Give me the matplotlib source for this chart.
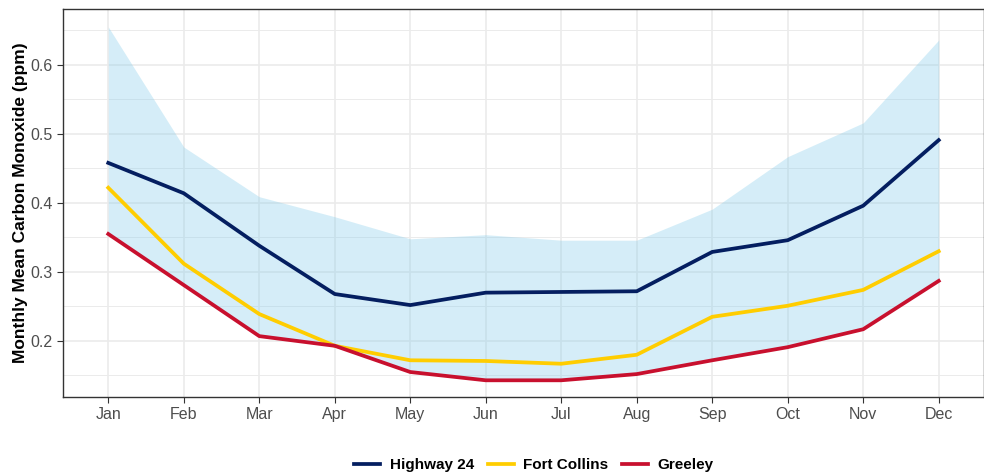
import matplotlib.pyplot as plt
from matplotlib.ticker import MultipleLocator

plt.rcParams['font.family'] = ['Liberation Sans', 'DejaVu Sans']

# data
months = ["Jan", "Feb", "Mar", "Apr", "May", "Jun", "Jul", "Aug", "Sep", "Oct", "Nov", "Dec"]
highway24 = [0.458, 0.414, 0.338, 0.268, 0.252, 0.270, 0.271, 0.272, 0.329, 0.346, 0.396, 0.491]
fort_collins = [0.422, 0.312, 0.239, 0.193, 0.172, 0.171, 0.167, 0.180, 0.235, 0.251, 0.274, 0.330]
greeley = [0.355, 0.281, 0.207, 0.193, 0.155, 0.143, 0.143, 0.152, 0.172, 0.191, 0.217, 0.287]
band_upper = [0.655, 0.481, 0.409, 0.380, 0.348, 0.354, 0.346, 0.346, 0.391, 0.467, 0.516, 0.636]
band_lower = greeley

navy = "#041E60"
gold = "#FFCD00"
crimson = "#C8102E"

fig = plt.figure(figsize=(9.84, 4.76), dpi=100)
ax = fig.add_axes([63 / 984, 79 / 476, 921 / 984, 388 / 476])

x = list(range(1, 13))
ax.fill_between(x, band_lower, band_upper, color="#87CEEB", alpha=0.35, linewidth=0, zorder=1)
ax.plot(x, highway24, color=navy, lw=2.7, label="Highway 24", zorder=3)
ax.plot(x, fort_collins, color=gold, lw=2.7, label="Fort Collins", zorder=3)
ax.plot(x, greeley, color=crimson, lw=2.7, label="Greeley", zorder=3)

ax.set_xlim(0.4, 12.6)
ax.set_ylim(0.1188, 0.681)
ax.set_xticks(x)
ax.set_xticklabels(months)
ax.yaxis.set_major_locator(MultipleLocator(0.1))
ax.yaxis.set_minor_locator(MultipleLocator(0.05))
ax.yaxis.set_major_formatter(plt.FuncFormatter(lambda v, p: f"{v:.1f}"))

ax.grid(which="major", color="#EBEBEB", lw=1.2, zorder=0)
ax.grid(which="minor", axis="y", color="#EBEBEB", lw=0.7, zorder=0)
ax.set_axisbelow(True)
for s in ax.spines.values():
    s.set_color("#333333")
    s.set_linewidth(1.0)
ax.tick_params(which="major", colors="#333333", labelcolor="#4D4D4D", labelsize=11.5,
               length=4.5, width=0.8, pad=3)
ax.tick_params(which="minor", length=0)
ax.set_ylabel("Monthly Mean Carbon Monoxide (ppm)", fontsize=12.5, fontweight="bold", labelpad=1.5)

fig.legend(loc="center", bbox_to_anchor=(534 / 984, 11 / 476), ncol=3, frameon=False,
           prop={"weight": "bold", "size": 11}, handlelength=1.7, columnspacing=0.85,
           handletextpad=0.65)

fig.savefig("out.png", dpi=100)
